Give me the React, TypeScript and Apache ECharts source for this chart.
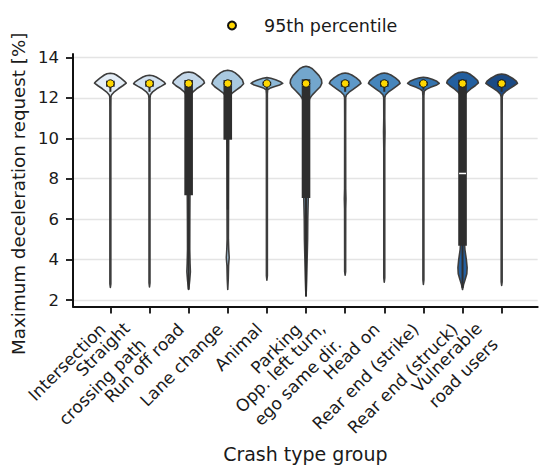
import React, { useEffect, useRef } from "react";
import * as echarts from "echarts";

const categories = [
  "Intersection",
  "Straight\ncrossing path",
  "Run off road",
  "Lane change",
  "Animal",
  "Parking",
  "Opp. left turn,\nego same dir.",
  "Head on",
  "Rear end (strike)",
  "Rear end (struck)",
  "Vulnerable\nroad users",
];

const p95 = [12.71, 12.71, 12.71, 12.71, 12.71, 12.71, 12.71, 12.71, 12.71, 12.71, 12.71];
const q1 = [12.55, 12.55, 7.18, 9.93, 12.6, 7.05, 12.55, 12.55, 12.6, 4.69, 12.55];
const q3 = [12.85, 12.85, 12.88, 12.88, 12.8, 12.92, 12.85, 12.85, 12.8, 12.9, 12.85];
const medians = [12.7, 12.7, 12.65, 12.65, 12.7, 12.65, 12.7, 12.7, 12.7, 8.26, 12.7];
const whiskerLow = [12.3, 12.3, 2.52, 6.47, 12.4, 2.19, 12.3, 12.3, 12.4, 2.6, 12.3];
const whiskerHigh = [12.85, 12.85, 12.88, 12.88, 12.8, 12.92, 12.85, 12.85, 12.8, 12.9, 12.85];

const violinColors = [
  "#e5eef7", "#d4e3f1", "#c4d8ea", "#a9c9e0", "#8db9d8", "#73a6cc",
  "#5d98c8", "#4685bb", "#3573ad", "#235f9f", "#1b4a84",
];

// [value, relative half-width] outline points, top to bottom
const profIntersection = [[13.22,0],[13.19,0.22],[13.13,0.38],[12.98,0.66],[12.82,0.9],[12.73,1],[12.6,0.78],[12.45,0.5],[12.3,0.25],[12.15,0.08],[12.05,0.035],[11.5,0.03],[2.8,0.03],[2.62,0]];
const profStraight = [[13.12,0],[13.09,0.22],[13.03,0.42],[12.9,0.7],[12.78,0.93],[12.7,1],[12.58,0.75],[12.45,0.45],[12.3,0.2],[12.15,0.06],[12.0,0.035],[9,0.03],[2.85,0.03],[2.65,0]];
const profRunOff = [[13.28,0],[13.25,0.25],[13.18,0.45],[13.02,0.72],[12.85,0.95],[12.74,1],[12.6,0.8],[12.45,0.5],[12.3,0.28],[12.15,0.15],[12.0,0.11],[10,0.1],[8,0.09],[6,0.075],[4.5,0.07],[3.8,0.09],[3.4,0.11],[3.0,0.07],[2.7,0.03],[2.52,0]];
const profLane = [[13.37,0],[13.33,0.25],[13.25,0.45],[13.1,0.68],[12.9,0.92],[12.7,1],[12.55,0.82],[12.4,0.55],[12.25,0.3],[12.1,0.13],[11.8,0.07],[10,0.06],[8,0.05],[6.5,0.045],[5,0.04],[4.5,0.06],[4.1,0.09],[3.7,0.05],[3.0,0.03],[2.52,0]];
const profAnimal = [[13.0,0],[12.97,0.25],[12.9,0.55],[12.8,0.85],[12.72,1],[12.64,0.8],[12.55,0.45],[12.47,0.18],[12.4,0.05],[12.2,0.03],[3.2,0.03],[2.98,0]];
const profParking = [[13.56,0],[13.52,0.22],[13.44,0.4],[13.3,0.58],[13.1,0.82],[12.9,0.97],[12.73,1],[12.55,0.9],[12.35,0.65],[12.15,0.4],[11.95,0.22],[11.7,0.17],[10,0.16],[8,0.15],[7,0.14],[6,0.11],[5,0.1],[4,0.07],[3,0.04],[2.5,0.02],[2.19,0]];
const profOpp = [[13.23,0],[13.2,0.22],[13.13,0.42],[13.0,0.68],[12.84,0.92],[12.72,1],[12.58,0.78],[12.42,0.5],[12.28,0.25],[12.14,0.08],[12.02,0.035],[11,0.03],[7.5,0.035],[7.0,0.05],[6.5,0.035],[3.4,0.03],[3.23,0]];
const profHeadOn = [[13.23,0],[13.2,0.22],[13.13,0.42],[13.0,0.68],[12.84,0.92],[12.72,1],[12.58,0.78],[12.42,0.5],[12.28,0.25],[12.14,0.08],[12.02,0.035],[11,0.03],[10.3,0.045],[9.5,0.03],[3.1,0.03],[2.88,0]];
const profStrike = [[13.02,0],[12.99,0.25],[12.92,0.55],[12.82,0.85],[12.72,1],[12.62,0.8],[12.52,0.45],[12.42,0.18],[12.33,0.05],[12.1,0.03],[3.0,0.03],[2.77,0]];
const profStruck = [[13.28,0],[13.25,0.25],[13.18,0.45],[13.03,0.72],[12.86,0.95],[12.74,1],[12.6,0.8],[12.45,0.52],[12.3,0.3],[12.15,0.16],[11.9,0.12],[10,0.11],[8,0.1],[6,0.1],[5,0.11],[4.5,0.15],[4.0,0.24],[3.6,0.29],[3.3,0.27],[3.0,0.16],[2.75,0.06],[2.52,0]];
const profVulnerable = [[13.18,0],[13.15,0.22],[13.09,0.42],[12.97,0.68],[12.83,0.92],[12.72,1],[12.6,0.78],[12.46,0.5],[12.32,0.25],[12.18,0.08],[12.06,0.035],[11,0.03],[2.9,0.03],[2.72,0]];

const violinProfiles = [
  profIntersection, profStraight, profRunOff, profLane, profAnimal, profParking,
  profOpp, profHeadOn, profStrike, profStruck, profVulnerable,
];

const yTicks = [2, 4, 6, 8, 10, 12, 14];
const xTicks = [0, 1, 2, 3, 4, 5, 6, 7, 8, 9, 10];
// padded with two blank end labels so that no real label gets dropped
const xLabelValues = [-0.9, 0, 1, 2, 3, 4, 5, 6, 7, 8, 9, 10, 10.9];

const FONT = "DejaVu Sans";
const INK = "#1a1a1a";
const X_MIN = -0.955;
const X_MAX = 10.92;

export default function App() {
  const ref = useRef<HTMLDivElement>(null);
  useEffect(() => {
    document.body.style.margin = "0";
    const chart = echarts.init(ref.current as HTMLDivElement, null, { renderer: "svg" });
    const option: any = {
      animation: false,
      backgroundColor: "#ffffff",
      textStyle: { fontFamily: FONT },
      legend: {
        data: ["95th percentile"],
        left: 222,
        top: 10.5,
        itemWidth: 8,
        itemHeight: 8,
        icon: "circle",
        textStyle: { fontFamily: FONT, fontSize: 17.5, color: INK, padding: [0, 0, 0, 23], lineHeight: 20 },
      },
      grid: { left: 73, right: 0, top: 54, bottom: 161, containLabel: false },
      xAxis: [
        {
          type: "value",
          min: X_MIN,
          max: X_MAX,
          name: "Crash type group",
          nameLocation: "middle",
          nameGap: 137.5,
          nameTextStyle: { fontFamily: FONT, fontSize: 19, color: INK },
          axisLine: { show: true, onZero: false, lineStyle: { color: "#111", width: 2 } },
          axisTick: { show: true, customValues: xTicks, length: 7, lineStyle: { color: "#111", width: 1.8 } },
          axisLabel: { show: false },
          splitLine: { show: false },
        },
        {
          type: "value",
          min: X_MIN,
          max: X_MAX,
          position: "bottom",
          axisLine: { show: false, onZero: false },
          axisTick: { show: false },
          splitLine: { show: false },
          axisLabel: {
            customValues: xLabelValues,
            hideOverlap: false,
            rotate: 45,
            margin: 12,
            fontFamily: FONT,
            fontSize: 17,
            color: INK,
            formatter: (v: number) => {
              if (Math.abs(v - Math.round(v)) > 0.01) return "";
              const name = categories[Math.round(v)] || "";
              const lines = name.split("\n");
              const st = lines.length > 1 ? "b" : "a";
              return lines.map((l) => "{" + st + "|" + l + "}").join("\n");
            },
            rich: {
              a: { fontFamily: FONT, fontSize: 17, color: INK, padding: [0, 11, 0, 0], lineHeight: 22 },
              b: { fontFamily: FONT, fontSize: 17, color: INK, padding: [0, 21, 0, 0], lineHeight: 22.5 },
            },
          },
        },
      ],
      yAxis: {
        type: "value",
        min: 1.68,
        max: 14.17,
        name: "Maximum deceleration request [%]",
        nameLocation: "middle",
        nameGap: 36,
        nameTextStyle: { fontFamily: FONT, fontSize: 18.25, color: INK, padding: [0, 27, 0, 0] },
        axisLine: { show: true, onZero: false, lineStyle: { color: "#111", width: 2 } },
        axisTick: { show: true, customValues: yTicks, length: 7, lineStyle: { color: "#111", width: 1.8 } },
        axisLabel: { customValues: yTicks, margin: 14, fontFamily: FONT, fontSize: 16.5, color: INK },
        splitLine: { show: true, lineStyle: { color: "#e4e4e4", width: 1.3 } },
      },
      series: [
        {
          type: "custom",
          name: "violins",
          z: 2,
          xAxisIndex: 0,
          data: categories.map((_, i) => [i, p95[i]]),
          encode: { x: 0, y: 1 },
          renderItem: (params: any, api: any) => {
            const i = api.value(0);
            const prof = violinProfiles[i];
            const unit = api.size([1, 0])[0];
            const halfMax = unit * 0.405;
            const boxHalf = unit * 0.11;
            const cx = api.coord([i, 0])[0];
            const right: number[][] = [];
            const left: number[][] = [];
            for (const [v, w] of prof) {
              const y = api.coord([i, v])[1];
              right.push([cx + w * halfMax, y]);
              left.push([cx - w * halfMax, y]);
            }
            const pts = right.concat(left.reverse());
            const yq1 = api.coord([i, q1[i]])[1];
            const yq3 = api.coord([i, q3[i]])[1];
            const ymed = api.coord([i, medians[i]])[1];
            const ywl = api.coord([i, whiskerLow[i]])[1];
            const ywh = api.coord([i, whiskerHigh[i]])[1];
            return {
              type: "group",
              children: [
                {
                  type: "polygon",
                  shape: { points: pts },
                  style: { fill: violinColors[i], stroke: "#3d3d3d", lineWidth: 1.6, lineJoin: "round" },
                },
                {
                  type: "line",
                  shape: { x1: cx, y1: ywl, x2: cx, y2: ywh },
                  style: { stroke: "#2e2e2e", lineWidth: 2 },
                },
                {
                  type: "rect",
                  shape: { x: cx - boxHalf, y: yq3, width: 2 * boxHalf, height: yq1 - yq3 },
                  style: { fill: "#2e2e2e" },
                },
                {
                  type: "line",
                  shape: { x1: cx - boxHalf * 0.8, y1: ymed, x2: cx + boxHalf * 0.8, y2: ymed },
                  style: { stroke: "#ffffff", lineWidth: 1.5 },
                },
              ],
            };
          },
        },
        {
          type: "scatter",
          name: "95th percentile",
          z: 5,
          xAxisIndex: 0,
          symbol: "circle",
          symbolSize: 7.5,
          data: categories.map((_, i) => [i, p95[i]]),
          itemStyle: { color: "#ffd700", borderColor: "#111", borderWidth: 1, opacity: 1 },
        },
      ],
    };
    chart.setOption(option);
    return () => chart.dispose();
  }, []);
  return <div ref={ref} style={{ position: "absolute", left: 0, top: 0, width: 539, height: 468 }} />;
}
